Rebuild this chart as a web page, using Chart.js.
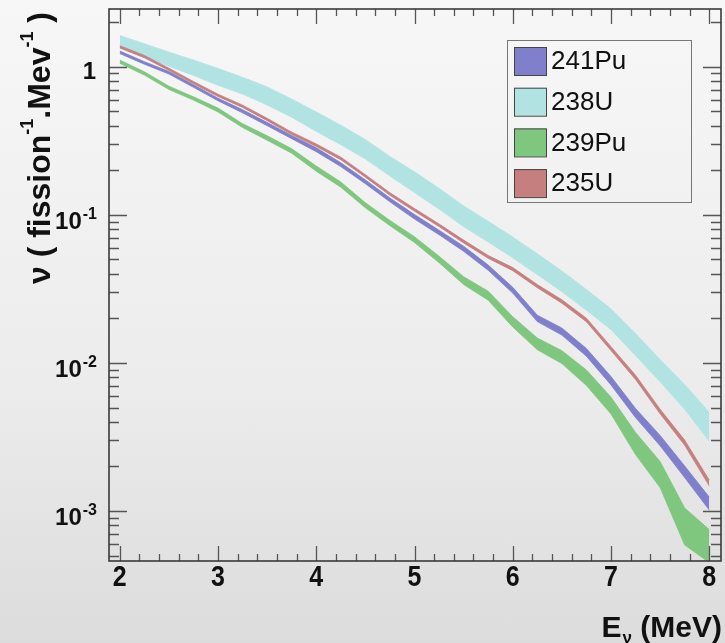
<!DOCTYPE html>
<html>
<head>
<meta charset="utf-8">
<script src="https://cdn.jsdelivr.net/npm/chart.js@4.4.1/dist/chart.umd.min.js"></script>
<style>
    html, body { margin: 0; padding: 0; }
    body {
        width: 725px; height: 643px; overflow: hidden;
        background: linear-gradient(to bottom, #f7f7f7 0%, #ececec 60%, #dcdcdc 100%);
    }
    #myChart { display: block; }
</style>
</head>
<body>
<canvas id="myChart" width="725" height="643"></canvas>
<script>
// neutrino energy (MeV)
const energy = [2, 2.25, 2.5, 2.75, 3, 3.25, 3.5, 3.75, 4, 4.25, 4.5, 4.75, 5, 5.25, 5.5, 5.75, 6, 6.25, 6.5, 6.75, 7, 7.25, 7.5, 7.75, 8];

// spectra, nu / fission / MeV
const u238 = [1.49, 1.30, 1.13, 0.99, 0.86, 0.75, 0.64, 0.53, 0.43, 0.35, 0.28, 0.215, 0.168, 0.13, 0.099, 0.078, 0.061, 0.047, 0.036, 0.027, 0.020, 0.0135, 0.0090, 0.0060, 0.0038];
const pu239 = [1.08, 0.90, 0.72, 0.61, 0.51, 0.40, 0.33, 0.27, 0.205, 0.16, 0.116, 0.088, 0.068, 0.050, 0.036, 0.0285, 0.019, 0.0135, 0.011, 0.0080, 0.0052, 0.0029, 0.0018, 0.00082, 0.00060];
const pu241 = [1.25, 1.06, 0.91, 0.74, 0.60, 0.50, 0.41, 0.335, 0.275, 0.218, 0.167, 0.126, 0.097, 0.076, 0.059, 0.044, 0.031, 0.020, 0.0163, 0.0118, 0.0076, 0.0046, 0.0030, 0.00185, 0.00113];
const u235 = [1.36, 1.17, 0.96, 0.78, 0.64, 0.54, 0.44, 0.355, 0.295, 0.24, 0.183, 0.138, 0.108, 0.085, 0.066, 0.052, 0.043, 0.033, 0.026, 0.0195, 0.0125, 0.0080, 0.0047, 0.0029, 0.00155];

// relative uncertainty (%), half width of each band
const u238Err = [9, 10, 11, 12, 13, 13, 14, 14, 15, 15, 15, 15, 16, 16, 16, 16, 16, 16, 16, 16, 16, 17, 17, 19, 22];
const pu239Err = [2.5, 2.5, 2.5, 2.5, 3, 3, 3.5, 3.5, 4, 4, 4, 4, 4.5, 5, 6, 7, 8, 9, 10, 12, 13, 17, 20, 28, 25];
const pu241Err = [2, 2, 2, 2, 2, 2.5, 2.5, 2.5, 3, 3, 3, 3, 3.5, 3.5, 4, 4, 4.5, 5, 5.5, 6, 6.5, 7, 8, 9, 10];
const u235Err = [1.8, 1.8, 1.8, 1.8, 1.8, 1.8, 1.8, 1.8, 2, 2, 2, 2, 2, 2, 2.2, 2.2, 2.4, 2.4, 2.6, 2.8, 3, 3.3, 3.6, 4, 4.5];

// legend entries, top to bottom
const legendLabels = ['241Pu', '238U', '239Pu', '235U'];

const xTicks = [2, 3, 4, 5, 6, 7, 8];
const yDecades = [1e-3, 1e-2, 1e-1, 1];
const yTickLabels = [['10', '-3'], ['10', '-2'], ['10', '-1'], ['1', '']];

const colors = {
    '241Pu': '#7f7fcc',
    '238U': '#b1e3e3',
    '239Pu': '#7fc67f',
    '235U': '#c67f7f'
};

function band(label, values, errs, order) {
    const lo = values.map(function (v, i) { return { x: energy[i], y: v * (1 - errs[i] / 100) }; });
    const hi = values.map(function (v, i) { return { x: energy[i], y: v * (1 + errs[i] / 100) }; });
    return [
        { label: label + ' low', data: lo, borderColor: colors[label], borderWidth: 0.8, pointRadius: 0, fill: false, order: order },
        { label: label, data: hi, borderColor: colors[label], borderWidth: 0.8, pointRadius: 0, fill: '-1', backgroundColor: colors[label], order: order }
    ];
}

const FONT = '"Liberation Sans", Arial, Helvetica, sans-serif';

const frame = {
    id: 'frame',
    afterDraw(chart) {
        const ctx = chart.ctx;
        const a = chart.chartArea;
        const x = chart.scales.x;
        const y = chart.scales.y;
        ctx.save();

        // ticks on all four sides
        ctx.strokeStyle = '#555';
        ctx.lineWidth = 1.3;
        ctx.beginPath();
        for (let i = 0; i <= 30; i++) {
            const v = 2 + i * 0.2;
            const px = Math.round(x.getPixelForValue(v)) + 0.5;
            const len = (i % 5 === 0) ? 15 : 7;
            ctx.moveTo(px, a.bottom); ctx.lineTo(px, a.bottom - len);
            ctx.moveTo(px, a.top); ctx.lineTo(px, a.top + len);
        }
        for (let d = -4; d <= 0; d++) {
            for (let k = 1; k <= 9; k++) {
                const v = k * Math.pow(10, d);
                if (v < y.min || v > y.max) continue;
                const py = Math.round(y.getPixelForValue(v)) + 0.5;
                const len = (k === 1) ? 18 : 10;
                ctx.moveTo(a.left, py); ctx.lineTo(a.left + len, py);
                ctx.moveTo(a.right, py); ctx.lineTo(a.right - len, py);
            }
        }
        ctx.stroke();

        ctx.strokeStyle = '#3a3a3a';
        ctx.lineWidth = 1.6;
        ctx.strokeRect(a.left, a.top, a.right - a.left, a.bottom - a.top);

        // x tick labels
        ctx.fillStyle = '#111';
        ctx.font = 'bold 25px ' + FONT;
        ctx.textAlign = 'center';
        ctx.textBaseline = 'middle';
        xTicks.forEach(function (t) {
            ctx.save();
            ctx.translate(x.getPixelForValue(t), 578);
            ctx.scale(1, 1.2);
            ctx.fillText(String(t), 0, 0);
            ctx.restore();
        });

        // y tick labels with exponent
        ctx.textBaseline = 'alphabetic';
        ctx.textAlign = 'right';
        yDecades.forEach(function (v, i) {
            const py = y.getPixelForValue(v);
            const base = yTickLabels[i][0];
            const exp = yTickLabels[i][1];
            if (exp) {
                ctx.font = 'bold 16px ' + FONT;
                ctx.fillText(exp, 97, py + 4);
                const w = ctx.measureText(exp).width;
                ctx.font = 'bold 24px ' + FONT;
                ctx.fillText(base, 97 - w - 1, py + 14);
            } else {
                ctx.font = 'bold 24px ' + FONT;
                ctx.fillText(base, 96, py + 12);
            }
        });

        // y title, rotated, aligned at the top
        const parts = [['\u03bd ( fission', false], ['-1', true], ['.Mev', false], ['-1', true], [' )', false]];
        ctx.save();
        ctx.translate(50, 12);
        ctx.rotate(-Math.PI / 2);
        ctx.textAlign = 'left';
        let total = 0;
        parts.forEach(function (p) {
            ctx.font = (p[1] ? 'bold 18px ' : 'bold 32px ') + FONT;
            total += ctx.measureText(p[0]).width;
        });
        let lx = -total;
        parts.forEach(function (p) {
            ctx.font = (p[1] ? 'bold 18px ' : 'bold 32px ') + FONT;
            ctx.fillText(p[0], lx, p[1] ? -17 : 0);
            lx += ctx.measureText(p[0]).width;
        });
        ctx.restore();

        // x title
        ctx.textAlign = 'right';
        ctx.font = 'bold 30px ' + FONT;
        const tail = ' (MeV)';
        ctx.fillText(tail, 722, 637);
        let tx = 722 - ctx.measureText(tail).width;
        ctx.font = 'bold 17px ' + FONT;
        ctx.fillText('\u03bd', tx, 643);
        tx -= ctx.measureText('\u03bd').width + 1;
        ctx.font = 'bold 30px ' + FONT;
        ctx.fillText('E', tx, 637);

        // legend box
        ctx.strokeStyle = '#777';
        ctx.lineWidth = 1;
        ctx.strokeRect(507.5, 40.5, 184, 162);
        ctx.textAlign = 'left';
        ctx.textBaseline = 'middle';
        ctx.font = '26px ' + FONT;
        legendLabels.forEach(function (lab, i) {
            const cy = 61 + i * 40.7;
            ctx.fillStyle = colors[lab];
            ctx.fillRect(514, cy - 14, 32, 28);
            ctx.strokeStyle = '#444';
            ctx.strokeRect(514.5, cy - 13.5, 32, 28);
            ctx.fillStyle = '#111';
            ctx.fillText(lab, 551, cy + 1);
        });
        ctx.restore();
    }
};

const datasets = [].concat(
    band('235U', u235, u235Err, 1),
    band('241Pu', pu241, pu241Err, 2),
    band('239Pu', pu239, pu239Err, 3),
    band('238U', u238, u238Err, 4)
);

var ctx = document.getElementById('myChart').getContext('2d');
var myChart = new Chart(ctx, {
    type: 'line',
    data: { datasets: datasets },
    options: {
        responsive: false,
        animation: false,
        devicePixelRatio: 1,
        layout: { padding: { left: 109, right: 4, top: 9, bottom: 82 } },
        elements: { line: { tension: 0 } },
        plugins: {
            legend: { display: false },
            tooltip: { enabled: false },
            filler: { propagate: false }
        },
        scales: {
            x: { type: 'linear', min: 1.89, max: 8.12, display: false },
            y: { type: 'logarithmic', min: 4.6e-4, max: 2.45, display: false }
        }
    },
    plugins: [frame]
});
</script>
</body>
</html>
